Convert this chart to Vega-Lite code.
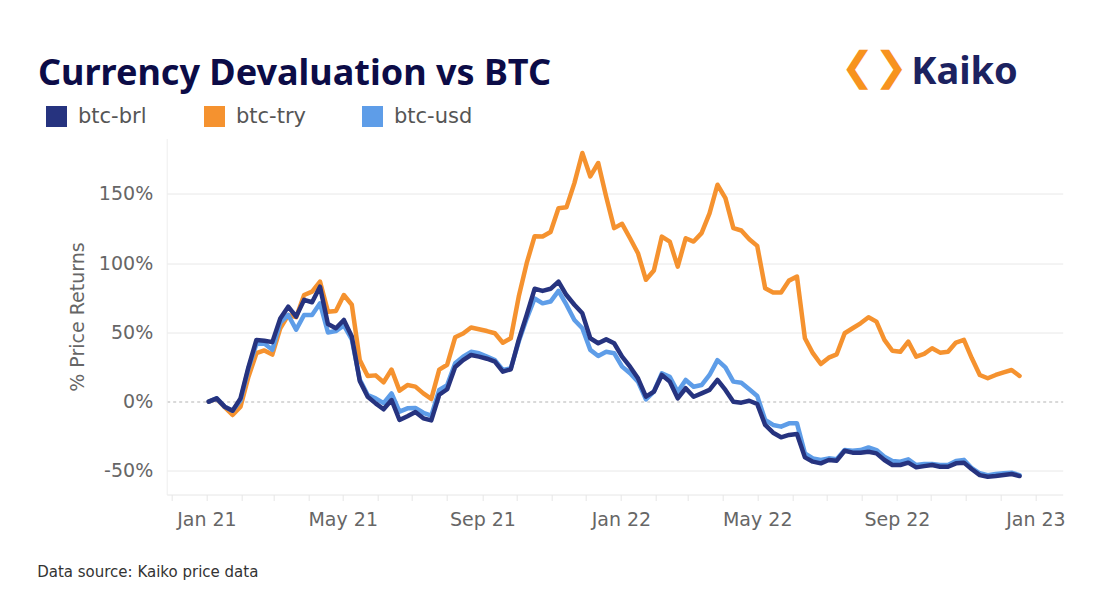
{
  "$schema": "https://vega.github.io/schema/vega-lite/v6.json",
  "autosize": "none",
  "width": 896,
  "height": 356,
  "padding": {"left": 166.7, "top": 138.5, "right": 53.3, "bottom": 103.5},
  "background": "white",
  "config": {
    "view": {"stroke": null},
    "font": "DejaVu Sans",
    "axis": {"labelFont": "DejaVu Sans", "titleFont": "DejaVu Sans"},
    "legend": {"labelFont": "DejaVu Sans"}
  },
  "title": {
    "text": "Currency Devaluation vs BTC",
    "anchor": "start",
    "frame": "group",
    "font": "Noto Sans",
    "fontSize": 36,
    "fontWeight": "bold",
    "color": "#0c0c47",
    "dx": -128.7,
    "dy": 45,
    "offset": 0
  },
  "data": {"values": [
    {"d":"2021-01-03","btc-brl":0,"btc-try":0,"btc-usd":0},
    {"d":"2021-01-10","btc-brl":2.4,"btc-try":2,"btc-usd":2.4},
    {"d":"2021-01-17","btc-brl":-3.6,"btc-try":-4,"btc-usd":-3.6},
    {"d":"2021-01-24","btc-brl":-6.5,"btc-try":-9.6,"btc-usd":-6.5},
    {"d":"2021-01-31","btc-brl":2.4,"btc-try":-3.6,"btc-usd":1},
    {"d":"2021-02-07","btc-brl":25,"btc-try":18,"btc-usd":24},
    {"d":"2021-02-14","btc-brl":44.6,"btc-try":35,"btc-usd":41.6},
    {"d":"2021-02-21","btc-brl":44,"btc-try":37,"btc-usd":42},
    {"d":"2021-02-28","btc-brl":43,"btc-try":34,"btc-usd":37.5},
    {"d":"2021-03-07","btc-brl":60,"btc-try":53,"btc-usd":57},
    {"d":"2021-03-14","btc-brl":68.6,"btc-try":62.6,"btc-usd":62.6},
    {"d":"2021-03-21","btc-brl":61.4,"btc-try":61,"btc-usd":52},
    {"d":"2021-03-28","btc-brl":73.5,"btc-try":77,"btc-usd":62.6},
    {"d":"2021-04-04","btc-brl":71.8,"btc-try":79.5,"btc-usd":62.6},
    {"d":"2021-04-11","btc-brl":83,"btc-try":86.7,"btc-usd":71},
    {"d":"2021-04-18","btc-brl":56,"btc-try":65,"btc-usd":50},
    {"d":"2021-04-25","btc-brl":53,"btc-try":65.5,"btc-usd":51},
    {"d":"2021-05-02","btc-brl":59,"btc-try":77,"btc-usd":55},
    {"d":"2021-05-09","btc-brl":47,"btc-try":70,"btc-usd":45},
    {"d":"2021-05-16","btc-brl":15,"btc-try":30,"btc-usd":16},
    {"d":"2021-05-23","btc-brl":3.6,"btc-try":18.6,"btc-usd":4.8},
    {"d":"2021-05-30","btc-brl":-1.2,"btc-try":19,"btc-usd":2.4},
    {"d":"2021-06-06","btc-brl":-5.5,"btc-try":14,"btc-usd":-1},
    {"d":"2021-06-13","btc-brl":1.2,"btc-try":23.2,"btc-usd":6},
    {"d":"2021-06-20","btc-brl":-13.2,"btc-try":8,"btc-usd":-7.2},
    {"d":"2021-06-27","btc-brl":-10.5,"btc-try":12,"btc-usd":-4.8},
    {"d":"2021-07-04","btc-brl":-7.5,"btc-try":10.9,"btc-usd":-4.5},
    {"d":"2021-07-11","btc-brl":-12,"btc-try":6,"btc-usd":-8},
    {"d":"2021-07-18","btc-brl":-13.5,"btc-try":2,"btc-usd":-10},
    {"d":"2021-07-25","btc-brl":5,"btc-try":23.2,"btc-usd":8.5},
    {"d":"2021-08-01","btc-brl":9,"btc-try":26.7,"btc-usd":12},
    {"d":"2021-08-08","btc-brl":25,"btc-try":46.5,"btc-usd":27.7},
    {"d":"2021-08-15","btc-brl":30,"btc-try":49.2,"btc-usd":32.5},
    {"d":"2021-08-22","btc-brl":33.7,"btc-try":53.6,"btc-usd":36},
    {"d":"2021-08-29","btc-brl":32.5,"btc-try":52.3,"btc-usd":35},
    {"d":"2021-09-05","btc-brl":31,"btc-try":51,"btc-usd":32.5},
    {"d":"2021-09-12","btc-brl":29,"btc-try":49.4,"btc-usd":30},
    {"d":"2021-09-19","btc-brl":21.7,"btc-try":42.6,"btc-usd":22.9},
    {"d":"2021-09-26","btc-brl":23.4,"btc-try":45.8,"btc-usd":24},
    {"d":"2021-10-03","btc-brl":44.6,"btc-try":75.9,"btc-usd":43.4},
    {"d":"2021-10-10","btc-brl":62.6,"btc-try":100,"btc-usd":60},
    {"d":"2021-10-17","btc-brl":81.5,"btc-try":119.5,"btc-usd":74.5},
    {"d":"2021-10-24","btc-brl":80,"btc-try":119.2,"btc-usd":71},
    {"d":"2021-10-31","btc-brl":81.5,"btc-try":122.5,"btc-usd":72.3},
    {"d":"2021-11-07","btc-brl":86.7,"btc-try":139.7,"btc-usd":80},
    {"d":"2021-11-14","btc-brl":77,"btc-try":140.3,"btc-usd":70},
    {"d":"2021-11-21","btc-brl":70,"btc-try":157.8,"btc-usd":59},
    {"d":"2021-11-28","btc-brl":63.8,"btc-try":179.5,"btc-usd":53},
    {"d":"2021-12-05","btc-brl":45.8,"btc-try":162.6,"btc-usd":37.4},
    {"d":"2021-12-12","btc-brl":42.2,"btc-try":172.3,"btc-usd":33},
    {"d":"2021-12-19","btc-brl":45,"btc-try":148,"btc-usd":36},
    {"d":"2021-12-26","btc-brl":42.2,"btc-try":125.3,"btc-usd":35},
    {"d":"2022-01-02","btc-brl":32.5,"btc-try":128.4,"btc-usd":25.3},
    {"d":"2022-01-09","btc-brl":25.3,"btc-try":118,"btc-usd":20.5},
    {"d":"2022-01-16","btc-brl":16.9,"btc-try":107.2,"btc-usd":14.5},
    {"d":"2022-01-23","btc-brl":3.6,"btc-try":88,"btc-usd":1.7},
    {"d":"2022-01-30","btc-brl":7.2,"btc-try":94.7,"btc-usd":7.2},
    {"d":"2022-02-06","btc-brl":19.3,"btc-try":119.2,"btc-usd":20.5},
    {"d":"2022-02-13","btc-brl":14.5,"btc-try":115.6,"btc-usd":18},
    {"d":"2022-02-20","btc-brl":2.4,"btc-try":97.5,"btc-usd":7.2},
    {"d":"2022-02-27","btc-brl":9.7,"btc-try":118,"btc-usd":15.7},
    {"d":"2022-03-06","btc-brl":3.6,"btc-try":115.6,"btc-usd":10.8},
    {"d":"2022-03-13","btc-brl":6,"btc-try":121.7,"btc-usd":12},
    {"d":"2022-03-20","btc-brl":8.5,"btc-try":136,"btc-usd":19.3},
    {"d":"2022-03-27","btc-brl":15.7,"btc-try":156.6,"btc-usd":30},
    {"d":"2022-04-03","btc-brl":8.5,"btc-try":147,"btc-usd":24.8},
    {"d":"2022-04-10","btc-brl":0,"btc-try":125.3,"btc-usd":14.5},
    {"d":"2022-04-17","btc-brl":-0.7,"btc-try":123.6,"btc-usd":13.7},
    {"d":"2022-04-24","btc-brl":0.7,"btc-try":117.3,"btc-usd":9},
    {"d":"2022-05-01","btc-brl":-1.7,"btc-try":112.5,"btc-usd":4.1},
    {"d":"2022-05-08","btc-brl":-16.8,"btc-try":81.9,"btc-usd":-13.2},
    {"d":"2022-05-15","btc-brl":-22.4,"btc-try":78.8,"btc-usd":-16.8},
    {"d":"2022-05-22","btc-brl":-25.7,"btc-try":78.8,"btc-usd":-18},
    {"d":"2022-05-29","btc-brl":-24,"btc-try":87.4,"btc-usd":-15.6},
    {"d":"2022-06-05","btc-brl":-23.3,"btc-try":90.3,"btc-usd":-15.6},
    {"d":"2022-06-12","btc-brl":-40.2,"btc-try":45.8,"btc-usd":-37.3},
    {"d":"2022-06-19","btc-brl":-43.3,"btc-try":35,"btc-usd":-40.9},
    {"d":"2022-06-26","btc-brl":-44.5,"btc-try":27.2,"btc-usd":-42},
    {"d":"2022-07-03","btc-brl":-42.1,"btc-try":31.8,"btc-usd":-40.9},
    {"d":"2022-07-10","btc-brl":-42.6,"btc-try":34.2,"btc-usd":-41.6},
    {"d":"2022-07-17","btc-brl":-35.4,"btc-try":49.4,"btc-usd":-34.9},
    {"d":"2022-07-24","btc-brl":-36.8,"btc-try":53,"btc-usd":-35.4},
    {"d":"2022-07-31","btc-brl":-36.8,"btc-try":56.6,"btc-usd":-34.9},
    {"d":"2022-08-07","btc-brl":-36.1,"btc-try":61,"btc-usd":-33},
    {"d":"2022-08-14","btc-brl":-37.3,"btc-try":57.8,"btc-usd":-34.9},
    {"d":"2022-08-21","btc-brl":-42.1,"btc-try":44.6,"btc-usd":-39.7},
    {"d":"2022-08-28","btc-brl":-45.7,"btc-try":36.8,"btc-usd":-42.8},
    {"d":"2022-09-04","btc-brl":-45.7,"btc-try":36,"btc-usd":-43.3},
    {"d":"2022-09-11","btc-brl":-44,"btc-try":43.4,"btc-usd":-41.6},
    {"d":"2022-09-18","btc-brl":-47.4,"btc-try":32.5,"btc-usd":-45.7},
    {"d":"2022-09-25","btc-brl":-46.5,"btc-try":34.5,"btc-usd":-45},
    {"d":"2022-10-02","btc-brl":-45.7,"btc-try":38.6,"btc-usd":-45},
    {"d":"2022-10-09","btc-brl":-47,"btc-try":35.4,"btc-usd":-45.7},
    {"d":"2022-10-16","btc-brl":-47,"btc-try":36,"btc-usd":-45.7},
    {"d":"2022-10-23","btc-brl":-44.5,"btc-try":42.7,"btc-usd":-42.8},
    {"d":"2022-10-30","btc-brl":-44,"btc-try":44.6,"btc-usd":-42},
    {"d":"2022-11-06","btc-brl":-48.8,"btc-try":31.3,"btc-usd":-48},
    {"d":"2022-11-13","btc-brl":-53,"btc-try":19.3,"btc-usd":-51.7},
    {"d":"2022-11-20","btc-brl":-54.2,"btc-try":16.9,"btc-usd":-53},
    {"d":"2022-11-27","btc-brl":-53.7,"btc-try":19.3,"btc-usd":-52.2},
    {"d":"2022-12-04","btc-brl":-53,"btc-try":21.2,"btc-usd":-51.7},
    {"d":"2022-12-11","btc-brl":-52.2,"btc-try":22.9,"btc-usd":-51.3},
    {"d":"2022-12-18","btc-brl":-53.7,"btc-try":18.6,"btc-usd":-53}
  ]},
  "transform": [{"fold": ["btc-brl", "btc-try", "btc-usd"], "as": ["series", "value"]}],
  "layer": [
    {
      "transform": [{"filter": "datum.series !== 'btc-brl'"}],
      "mark": {"type": "line", "strokeWidth": 4.5, "strokeJoin": "round", "strokeCap": "round", "clip": false},
      "encoding": {
        "x": {
          "field": "d", "type": "temporal",
          "scale": {"type": "utc", "domain": [{"year": 2020, "month": 11, "date": 27, "utc": true}, {"year": 2023, "month": 1, "date": 25, "utc": true}]},
          "axis": {
            "orient": "bottom",
            "values": [
              {"year": 2020, "month": 12, "date": 1, "utc": true},
              {"year": 2021, "month": 1, "date": 1, "utc": true},
              {"year": 2021, "month": 2, "date": 1, "utc": true},
              {"year": 2021, "month": 3, "date": 1, "utc": true},
              {"year": 2021, "month": 4, "date": 1, "utc": true},
              {"year": 2021, "month": 5, "date": 1, "utc": true},
              {"year": 2021, "month": 6, "date": 1, "utc": true},
              {"year": 2021, "month": 7, "date": 1, "utc": true},
              {"year": 2021, "month": 8, "date": 1, "utc": true},
              {"year": 2021, "month": 9, "date": 1, "utc": true},
              {"year": 2021, "month": 10, "date": 1, "utc": true},
              {"year": 2021, "month": 11, "date": 1, "utc": true},
              {"year": 2021, "month": 12, "date": 1, "utc": true},
              {"year": 2022, "month": 1, "date": 1, "utc": true},
              {"year": 2022, "month": 2, "date": 1, "utc": true},
              {"year": 2022, "month": 3, "date": 1, "utc": true},
              {"year": 2022, "month": 4, "date": 1, "utc": true},
              {"year": 2022, "month": 5, "date": 1, "utc": true},
              {"year": 2022, "month": 6, "date": 1, "utc": true},
              {"year": 2022, "month": 7, "date": 1, "utc": true},
              {"year": 2022, "month": 8, "date": 1, "utc": true},
              {"year": 2022, "month": 9, "date": 1, "utc": true},
              {"year": 2022, "month": 10, "date": 1, "utc": true},
              {"year": 2022, "month": 11, "date": 1, "utc": true},
              {"year": 2022, "month": 12, "date": 1, "utc": true},
              {"year": 2023, "month": 1, "date": 1, "utc": true}
            ],
            "labelExpr": "utcmonth(datum.value) % 4 === 0 ? utcFormat(datum.value, '%b %y') : ''",
            "grid": false,
            "domain": true,
            "domainColor": "#e6e6e6",
            "ticks": true,
            "tickColor": "#e6e6e6",
            "tickSize": 6,
            "labelPadding": 10,
            "labelFontSize": 19,
            "labelColor": "#666666",
            "labelFlush": false,
            "labelOverlap": false,
            "title": "Data source: Kaiko price data",
            "titleFontSize": 15,
            "titleFontWeight": "normal",
            "titleColor": "#333333",
            "titleX": -130,
            "titleY": 82,
            "titleAlign": "left",
            "titleAnchor": null,
            "titleBaseline": "alphabetic"
          }
        },
        "y": {
          "field": "value", "type": "quantitative",
          "scale": {"domain": [-67, 190], "nice": false, "zero": false},
          "axis": {
            "orient": "left",
            "values": [-50, 0, 50, 100, 150],
            "labelExpr": "datum.value + '%'",
            "grid": true,
            "gridColor": {"condition": {"test": "datum.value === 0", "value": "#b3b3b3"}, "value": "#e8e8e8"},
            "gridDash": {"condition": {"test": "datum.value === 0", "value": [3, 3]}, "value": []},
            "domain": true,
            "domainColor": "#eeeeee",
            "ticks": false,
            "labelPadding": 14,
            "labelFontSize": 19,
            "labelColor": "#666666",
            "title": "% Price Returns",
            "titleFontSize": 19,
            "titleFontWeight": "normal",
            "titleColor": "#666666",
            "titleX": -89,
            "titleY": 178,
            "titleAngle": -90,
            "titleAlign": "center",
            "titleBaseline": "middle"
          }
        },
        "color": {
          "field": "series", "type": "nominal",
          "scale": {"domain": ["btc-brl", "btc-try", "btc-usd"], "range": ["#26337f", "#f5922f", "#5e9de8"]},
          "legend": {
            "orient": "none",
            "legendX": -120.7,
            "legendY": -32.5,
            "direction": "horizontal",
            "title": null,
            "padding": 0,
            "symbolType": "square",
            "symbolSize": 441,
            "symbolStrokeWidth": 0,
            "labelFontSize": 21,
            "labelColor": "#555555",
            "labelOffset": 11,
            "columnPadding": 47,
            "gridAlign": "all",
            "encode": {"symbols": {"update": {"fill": {"scale": "color", "field": "value"}, "strokeWidth": {"value": 0}}}}
          }
        }
      }
    },
    {
      "transform": [{"filter": "datum.series === 'btc-brl'"}],
      "mark": {"type": "line", "strokeWidth": 4.5, "strokeJoin": "round", "strokeCap": "round", "clip": false},
      "encoding": {
        "x": {
          "field": "d", "type": "temporal",
          "scale": {"type": "utc", "domain": [{"year": 2020, "month": 11, "date": 27, "utc": true}, {"year": 2023, "month": 1, "date": 25, "utc": true}]},
          "axis": {
            "orient": "top",
            "labels": false, "ticks": false, "domain": false, "grid": false,
            "title": "❮❯",
            "titleColor": "#f7931e",
            "titleFont": "DejaVu Sans",
            "titleFontSize": 40,
            "titleFontWeight": "bold",
            "titleX": 707,
            "titleY": -71,
            "titleAlign": "center",
            "titleBaseline": "middle"
          }
        },
        "y": {
          "field": "value", "type": "quantitative",
          "scale": {"domain": [-67, 190], "nice": false, "zero": false},
          "axis": {
            "orient": "right",
            "labels": false, "ticks": false, "domain": false, "grid": false,
            "title": "Kaiko",
            "titleAngle": 0,
            "titleFont": "Noto Sans",
            "titleFontSize": 38,
            "titleFontWeight": "bold",
            "titleColor": "#1c2260",
            "titleX": -152,
            "titleY": -55.5,
            "titleAlign": "left",
            "titleBaseline": "alphabetic"
          }
        },
        "color": {"field": "series", "type": "nominal"}
      }
    }
  ],
  "resolve": {"axis": {"x": "independent", "y": "independent"}}
}
